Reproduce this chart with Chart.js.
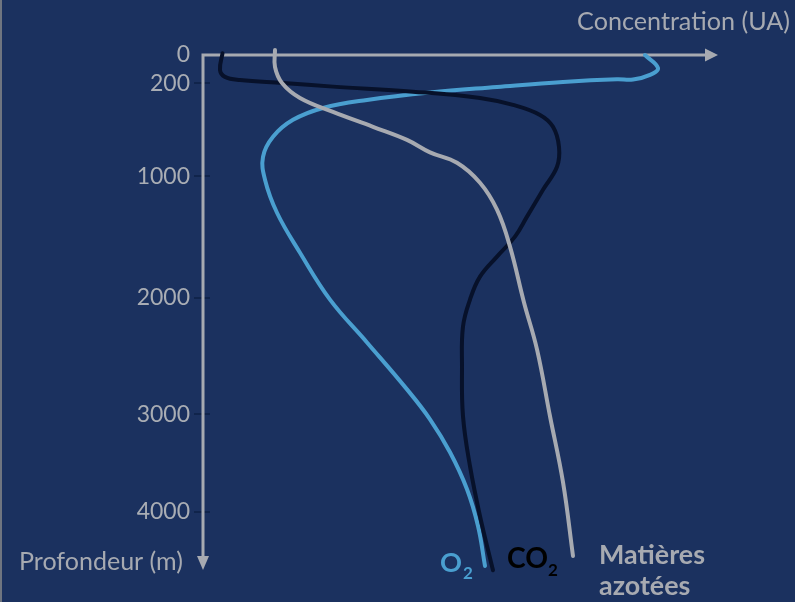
<!DOCTYPE html>
<html>
<head>
<meta charset="utf-8">
<script src="https://cdn.jsdelivr.net/npm/chart.js@4.4.1/dist/chart.umd.min.js"></script>
<style>
  html, body { margin: 0; padding: 0; background: #1b315f; }
  #wrap { width: 795px; height: 602px; }
</style>
</head>
<body>
<div id="wrap"><canvas id="chart" width="795" height="602"></canvas></div>
<script>
// depth ticks (m)
const depthTicks = [0, 200, 1000, 2000, 3000, 4000];

// the drawing's depth axis is not evenly spaced: depth stops and where they sit (fraction of plot height)
const depthStops = [0, 200, 1000, 2000, 3000, 4000, 4650];
const depthFracs = [0, 0.0543, 0.2335, 0.4668, 0.6907, 0.8782, 1];

// O2
const o2Conc  = [88.4, 91, 89.4, 86, 82.8, 72, 58.8, 45.4, 32.8, 24, 18, 14, 12, 12.4, 14.8, 19.4, 25.4, 32.8, 40.8, 45.4, 49.4, 52.8, 55, 56.4];
const o2Depth = [0, 92, 141, 174, 172, 191, 232, 279, 343, 412, 514, 659, 831, 1027, 1299, 1628, 2015, 2383, 2786, 3051, 3389, 3768, 4146, 4555];

// CO2
const co2Conc  = [3.9, 3.4, 4.4, 7.4, 16, 26, 42, 55.4, 62, 67.4, 70, 71.2, 70.8, 68, 64.8, 62.4, 58.8, 55.4, 53.4, 52, 51.8, 52, 53.4, 55.4, 58];
const co2Depth = [-12, 106, 155, 177, 198, 229, 272, 326, 386, 472, 574, 746, 917, 1109, 1331, 1496, 1660, 1825, 2015, 2246, 2589, 3020, 3532, 4044, 4600];

// Matières azotées
const azoConc  = [14.4, 14.4, 15.8, 19.4, 26, 34, 40.8, 45.4, 50.8, 55.4, 58.8, 61.4, 64.2, 66.8, 69.4, 72, 74];
const azoDepth = [-35, 85, 198, 326, 446, 574, 686, 793, 883, 1052, 1274, 1578, 2040, 2443, 3020, 3696, 4453];

const GRAY = '#a7aab1';
const BLUE = '#4a9fd0';
const DARK = '#07112a';

function depthToFrac(v) {
  let i = 0;
  while (i < depthStops.length - 2 && v > depthStops[i + 1]) i++;
  const t = (v - depthStops[i]) / (depthStops[i + 1] - depthStops[i]);
  return depthFracs[i] + t * (depthFracs[i + 1] - depthFracs[i]);
}
function fracToDepth(f) {
  let i = 0;
  while (i < depthFracs.length - 2 && f > depthFracs[i + 1]) i++;
  const t = (f - depthFracs[i]) / (depthFracs[i + 1] - depthFracs[i]);
  return depthStops[i] + t * (depthStops[i + 1] - depthStops[i]);
}

class DepthScale extends Chart.LinearScale {
  getPixelForValue(value) {
    if (value === null) return NaN;
    return this.top + depthToFrac(value) * (this.bottom - this.top);
  }
  getValueForPixel(pixel) {
    return fracToDepth((pixel - this.top) / (this.bottom - this.top));
  }
}
DepthScale.id = 'depth';
Chart.register(DepthScale);

function pts(xs, ys) {
  return xs.map((v, i) => ({ x: v, y: ys[i] }));
}

function fitSize(ctx, text, weight, width) {
  ctx.font = weight + ' 20px Lato';
  return 20 * width / ctx.measureText(text).width;
}

const axesPlugin = {
  id: 'axes',
  beforeDraw(chart) {
    const ctx = chart.ctx;
    ctx.save();
    ctx.fillStyle = '#1b315f';
    ctx.fillRect(0, 0, chart.width, chart.height);
    ctx.fillStyle = '#6f7580';
    ctx.fillRect(0, 0, 2, chart.height);
    ctx.restore();
  },
  beforeDatasetsDraw(chart) {
    const ctx = chart.ctx;
    const xs = chart.scales.x, ys = chart.scales.y;
    const x0 = xs.getPixelForValue(0);
    const y0 = ys.getPixelForValue(0);
    const xBase = xs.getPixelForValue(100.4), xTip = xs.getPixelForValue(103);
    const yBase = ys.getPixelForValue(4453), yTip = ys.getPixelForValue(4597);
    ctx.save();
    // tick marks
    ctx.strokeStyle = '#10244b';
    ctx.lineWidth = 2;
    depthTicks.slice(1).forEach(v => {
      const p = Math.round(ys.getPixelForValue(v));
      ctx.beginPath();
      ctx.moveTo(x0 - 9, p);
      ctx.lineTo(x0 + 7, p);
      ctx.stroke();
    });
    // axis lines
    ctx.strokeStyle = GRAY;
    ctx.lineWidth = 3;
    ctx.lineJoin = 'miter';
    ctx.beginPath();
    ctx.moveTo(xBase, y0);
    ctx.lineTo(x0, y0);
    ctx.lineTo(x0, yBase);
    ctx.stroke();
    // arrow heads
    ctx.fillStyle = GRAY;
    ctx.beginPath();
    ctx.moveTo(xBase, y0 - 6.5);
    ctx.lineTo(xTip, y0);
    ctx.lineTo(xBase, y0 + 6.5);
    ctx.closePath();
    ctx.fill();
    ctx.beginPath();
    ctx.moveTo(x0 - 6, yBase);
    ctx.lineTo(x0, yTip);
    ctx.lineTo(x0 + 6, yBase);
    ctx.closePath();
    ctx.fill();
    ctx.restore();
  },
  afterDraw(chart) {
    const ctx = chart.ctx;
    ctx.save();
    ctx.fillStyle = GRAY;
    ctx.textBaseline = 'middle';
    let s = fitSize(ctx, 'Concentration (UA)', 'normal', 213);
    ctx.font = s + 'px Lato';
    ctx.textAlign = 'right';
    ctx.fillText('Concentration (UA)', 790, 22);
    s = fitSize(ctx, 'Profondeur (m)', 'normal', 164);
    ctx.font = s + 'px Lato';
    ctx.textAlign = 'left';
    ctx.fillText('Profondeur (m)', 19, 562);

    // series labels
    ctx.textBaseline = 'alphabetic';
    s = fitSize(ctx, 'O', 'bold', 22);
    ctx.font = 'bold ' + s + 'px Lato';
    ctx.fillStyle = BLUE;
    ctx.fillText('O', 440, 572);
    ctx.font = 'bold 17px Lato';
    ctx.fillText('2', 463, 579);

    s = fitSize(ctx, 'CO', 'bold', 41);
    ctx.font = 'bold ' + s + 'px Lato';
    ctx.fillStyle = '#000000';
    ctx.fillText('CO', 507, 568);
    ctx.font = 'bold 17px Lato';
    ctx.fillText('2', 548, 576);

    ctx.fillStyle = GRAY;
    s = fitSize(ctx, 'Matières', 'bold', 106);
    ctx.font = 'bold ' + s + 'px Lato';
    ctx.fillText('Matières', 599, 564);
    ctx.fillText('azotées', 599, 595);
    ctx.restore();
  }
};

const lineStyle = {
  pointRadius: 0,
  borderWidth: 4,
  borderCapStyle: 'round',
  borderJoinStyle: 'round',
  tension: 0.4,
  fill: false,
  clip: false
};

new Chart(document.getElementById('chart'), {
  type: 'line',
  data: {
    datasets: [
      Object.assign({ label: 'Matières azotées', data: pts(azoConc, azoDepth), borderColor: GRAY }, lineStyle),
      Object.assign({ label: 'CO2', data: pts(co2Conc, co2Depth), borderColor: DARK }, lineStyle),
      Object.assign({ label: 'O2', data: pts(o2Conc, o2Depth), borderColor: BLUE }, lineStyle)
    ]
  },
  options: {
    responsive: false,
    animation: false,
    layout: { padding: { left: 0, top: 55, right: 77, bottom: 26 } },
    plugins: { legend: { display: false }, tooltip: { enabled: false } },
    scales: {
      x: { type: 'linear', display: false, min: 0, max: 103 },
      y: {
        type: 'depth',
        position: 'left',
        min: 0,
        max: 4650,
        afterBuildTicks: s => { s.ticks = depthTicks.map(v => ({ value: v })); },
        afterFit: s => { s.width = 203; },
        border: { display: false },
        grid: { display: false, drawTicks: false, tickLength: 0 },
        ticks: {
          color: '#a9adb4',
          padding: 13,
          font: { family: 'Lato', size: 23 },
          callback: v => String(v)
        }
      }
    }
  },
  plugins: [axesPlugin]
});
</script>
</body>
</html>
